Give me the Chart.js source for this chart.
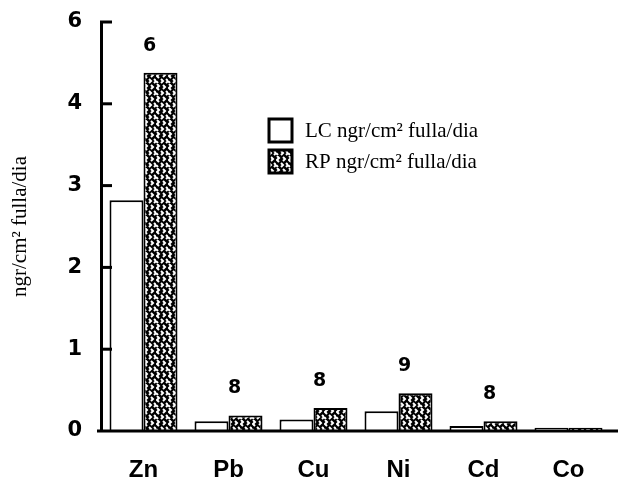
<!DOCTYPE html>
<html>
<head>
<meta charset="utf-8">
<script src="https://cdn.jsdelivr.net/npm/chart.js@4"></script>
<style>
  body { margin: 0; background: #fff; }
  #wrap { width: 619px; height: 480px; position: relative; }
</style>
</head>
<body>
<div id="wrap"><canvas id="metalChart"></canvas></div>
<script>
// values
const metals = ["Zn", "Pb", "Cu", "Ni", "Cd", "Co"];
const lcValues = [2.82, 0.12, 0.14, 0.24, 0.06, 0.04];
const rpValues = [4.38, 0.19, 0.28, 0.46, 0.12, 0.04];
const barNotes = ["6", "8", "8", "9", "8", ""];
const yTickLabels = ["0", "1", "2", "3", "4", "6"];
const seriesNames = ["LC ngr/cm² fulla/dia", "RP ngr/cm² fulla/dia"];
const axisTitle = "ngr/cm² fulla/dia";

const canvas = document.getElementById("metalChart");
const ctx = canvas.getContext("2d");

// black/white speckle like the printed hatch
function makeSpeckle() {
    const c = document.createElement("canvas");
    c.width = 12; c.height = 12;
    const g = c.getContext("2d");
    g.fillStyle = "#000";
    g.fillRect(0, 0, 12, 12);
    g.strokeStyle = "#fff";
    g.lineWidth = 2;
    g.beginPath();
    g.moveTo(1, 0); g.lineTo(3, 2); g.lineTo(1, 4); g.lineTo(3, 6);
    g.moveTo(7, 1); g.lineTo(9, 3); g.lineTo(7, 5);
    g.moveTo(5, 7); g.lineTo(7, 9); g.lineTo(5, 11);
    g.moveTo(10, 7); g.lineTo(12, 9); g.lineTo(10, 11);
    g.moveTo(0, 9); g.lineTo(2, 11);
    g.stroke();
    return ctx.createPattern(c, "repeat");
}
const speckle = makeSpeckle();

const innerTicks = {
    id: "innerTicks",
    afterDatasetsDraw(chart) {
        const y = chart.scales.y;
        const c = chart.ctx;
        const left = chart.chartArea.left;
        c.save();
        c.strokeStyle = "#000";
        c.lineWidth = 3;
        for (let v = 1; v <= 5; v++) {
            const py = y.getPixelForValue(v);
            c.beginPath();
            c.moveTo(left - 1, py);
            c.lineTo(left + 11, py);
            c.stroke();
        }
        // base line runs to the edge of the page
        const py0 = y.getPixelForValue(0);
        c.beginPath();
        c.moveTo(left - 4, py0);
        c.lineTo(chart.width - 1, py0);
        c.stroke();
        c.restore();
    }
};

const notes = {
    id: "notes",
    afterDatasetsDraw(chart) {
        const meta = chart.getDatasetMeta(1);
        const c = chart.ctx;
        c.save();
        c.fillStyle = "#000";
        c.font = "bold 19px 'DejaVu Sans'";
        c.textAlign = "center";
        c.textBaseline = "middle";
        meta.data.forEach((bar, i) => {
            if (!barNotes[i]) return;
            c.fillText(barNotes[i], bar.x - 11, bar.y - 27);
        });
        c.restore();
    }
};

const boxLegend = {
    id: "boxLegend",
    afterDraw(chart) {
        const c = chart.ctx;
        const fills = ["#fff", speckle];
        c.save();
        c.font = "21px 'Liberation Serif'";
        c.textBaseline = "middle";
        c.textAlign = "left";
        fills.forEach((f, i) => {
            const top = 119 + i * 31;
            c.fillStyle = f;
            c.fillRect(269, top, 23, 23);
            c.strokeStyle = "#000";
            c.lineWidth = 3;
            c.strokeRect(269, top, 23, 23);
            c.fillStyle = "#000";
            c.fillText(seriesNames[i], 305, top + 12);
        });
        c.restore();
    }
};

new Chart(ctx, {
    type: "bar",
    data: {
        labels: metals,
        datasets: [{
            label: seriesNames[0],
            data: lcValues,
            backgroundColor: "#fff",
            borderColor: "#000",
            borderWidth: 2
        }, {
            label: seriesNames[1],
            data: rpValues,
            backgroundColor: speckle,
            borderColor: "#000",
            borderWidth: 2
        }]
    },
    options: {
        responsive: true,
        maintainAspectRatio: false,
        animation: false,
        layout: { padding: { top: 22, right: 8, left: 0, bottom: 0 } },
        datasets: { bar: { categoryPercentage: 0.8, barPercentage: 1.0 } },
        plugins: {
            legend: { display: false },
            tooltip: { enabled: false }
        },
        scales: {
            x: {
                grid: { display: false },
                border: { display: false },
                ticks: {
                    color: "#000",
                    padding: 17,
                    font: { family: "Liberation Sans", weight: "bold", size: 24 }
                },
                afterFit(scale) { scale.height = 49; }
            },
            y: {
                min: 0,
                max: 5,
                grid: { display: true, drawOnChartArea: false, drawTicks: false },
                border: { display: true, width: 3, color: "#000" },
                ticks: {
                    stepSize: 1,
                    color: "#000",
                    padding: 19,
                    font: { family: "DejaVu Sans", weight: "bold", size: 21, lineHeight: 1 },
                    callback: (v) => yTickLabels[v]
                },
                title: {
                    display: true,
                    text: axisTitle,
                    color: "#000",
                    padding: { top: 8, bottom: 0 },
                    font: { family: "Liberation Serif", size: 21, weight: "normal" }
                },
                afterFit(scale) {
                    scale.width = 101;
                    scale.paddingTop = 0;
                    scale.paddingBottom = 0;
                }
            }
        }
    },
    plugins: [innerTicks, notes, boxLegend]
});
</script>
</body>
</html>
